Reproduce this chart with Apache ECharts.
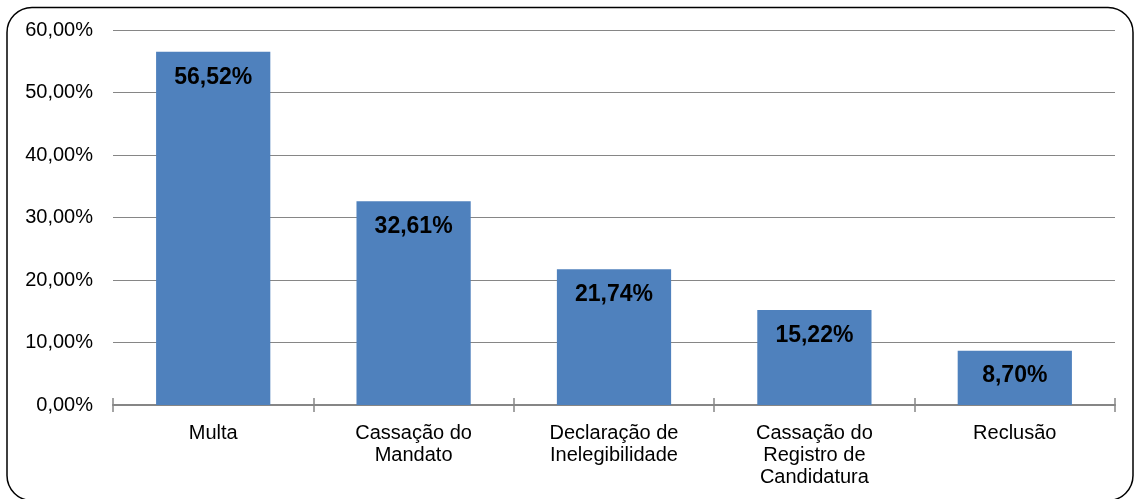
<!DOCTYPE html>
<html><head><meta charset="utf-8">
<script src="https://cdn.jsdelivr.net/npm/echarts@6/dist/echarts.min.js"></script>
<style>html,body{margin:0;padding:0;background:#fff}#c{width:1137px;height:499px}</style>
</head><body><div id="c"></div>
<script>
const categories = ['Multa', 'Cassação do\nMandato', 'Declaração de\nInelegibilidade', 'Cassação do\nRegistro de\nCandidatura', 'Reclusão'];
const values = [56.52, 32.61, 21.74, 15.22, 8.70];
const fmt = v => v.toFixed(2).replace('.', ',') + '%';
const chart = echarts.init(document.getElementById('c'));
chart.setOption({
  animation: false,
  textStyle: { fontFamily: 'Liberation Sans, Arial, sans-serif' },
  graphic: [{ type: 'rect', shape: { x: 7, y: 7.5, width: 1126, height: 493, r: 25 },
    style: { fill: 'none', stroke: '#000', lineWidth: 1.5 }, silent: true }],
  grid: { left: 113, right: 22, top: 30, bottom: 94 },
  xAxis: [{
    type: 'category', data: categories,
    axisLine: { lineStyle: { color: '#868686', width: 2 } },
    axisTick: { show: true, length: 7, inside: false, lineStyle: { color: '#868686', width: 1.5 } },
    axisLabel: { color: '#000', fontSize: 20, lineHeight: 22, margin: 17, interval: 0 }
  }, {
    type: 'category', data: categories, position: 'bottom',
    axisLine: { show: false },
    axisTick: { show: true, length: 7, inside: true, lineStyle: { color: '#868686', width: 1.5 } },
    axisLabel: { show: false }
  }],
  yAxis: {
    type: 'value', min: 0, max: 60, interval: 10,
    axisLine: { show: false }, axisTick: { show: false },
    axisLabel: { color: '#000', fontSize: 20, margin: 20, formatter: v => fmt(v) },
    splitLine: { lineStyle: { color: '#868686', width: 1.2 } }
  },
  series: [{
    type: 'bar', data: values, barWidth: '57%', xAxisIndex: 0,
    itemStyle: { color: '#4F81BD' },
    label: { show: true, position: 'insideTop', distance: 14, color: '#000', fontSize: 23, fontWeight: 'bold',
      formatter: p => fmt(p.value) }
  }]
});
</script></body></html>
